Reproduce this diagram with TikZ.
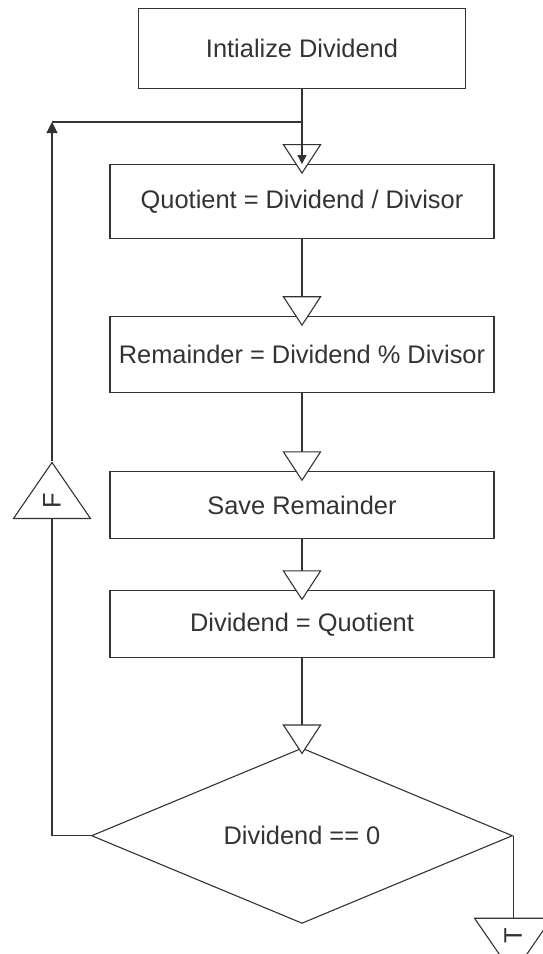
\documentclass[tikz,border=0pt]{standalone}
\usepackage{fontspec}
\setmainfont{Liberation Sans}
\usetikzlibrary{positioning, shapes.geometric, arrows.meta}

\begin{document}
\begin{tikzpicture}[x=1pt, y=1pt, node distance=75pt, line width=1.1pt, color=black!80,
    font=\fontsize{25.4pt}{30pt}\selectfont,
    box/.style={draw, rectangle, inner sep=0pt, minimum width=384pt},
    test/.style={draw, diamond, inner sep=0pt, minimum width=421pt, minimum height=148pt},
    flag/.style={draw, fill=white, isosceles triangle, isosceles triangle stretches,
      inner sep=0pt, minimum width=77pt, minimum height=56pt, rotate=90},
    flowto/.style={-{Triangle[fill=white, length=30pt, width=39pt]}, shorten >=-10pt}]
  \useasboundingbox (0,0) rectangle (542,-954);

  \node[box, minimum width=327pt, minimum height=80pt] (init) at (302,-48.5) {Intialize Dividend};
  \node[box, minimum height=74pt] (quot) [below=of init] {Quotient = Dividend / Divisor};
  \node[box, minimum height=76pt] (rem) [below=77pt of quot] {Remainder = Dividend \% Divisor};
  \node[box, minimum height=67pt] (save) [below=78pt of rem] {Save Remainder};
  \node[box, minimum height=67pt] (newdiv) [below=51pt of save] {Dividend = Quotient};
  \node[test] (zero) [below=89pt of newdiv] {Dividend == 0};

  % false / true markers
  \node[flag, anchor=lower side] (false) at (52,-519) {F};
  \node[flag, shape border rotate=180, anchor=lower side] (true) at ([yshift=-82pt]zero.east) {T};

  \coordinate (back) at (52,-122);
  \coordinate (join) at (init.south |- back);

  \draw (zero.west) -| (false.lower side);
  \draw[-{Triangle[length=11pt, width=11pt]}] (false.apex) -- (back);
  \draw (back) -- (join);
  \draw (zero.east) -- (true.lower side);

  \path[flowto]
    (init) edge (quot)
    (quot) edge (rem)
    (rem) edge (save)
    (save) edge (newdiv)
    (newdiv) edge[shorten >=-7pt] (zero);
  \draw[-{Triangle[length=9pt, width=9pt]}] (init) -- (quot);
\end{tikzpicture}
\end{document}
